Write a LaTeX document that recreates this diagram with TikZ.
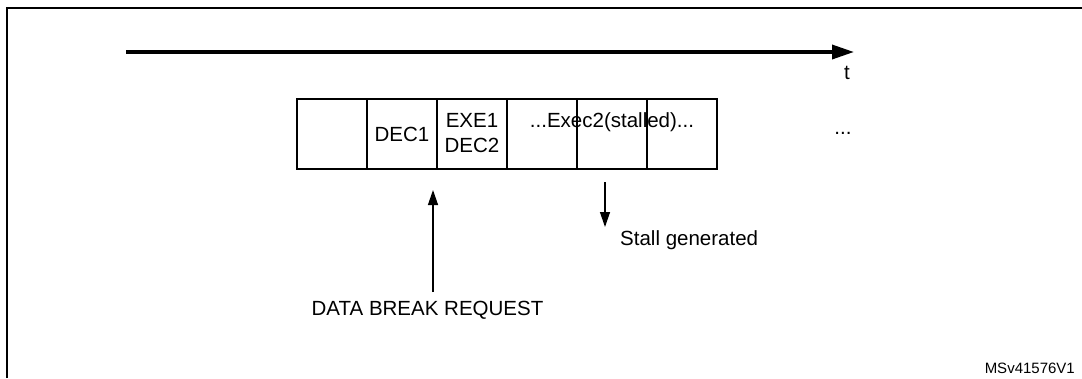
\documentclass[tikz,border=0pt]{standalone}
\usepackage{fontspec}
\setmainfont{Liberation Sans}
\usetikzlibrary{arrows.meta}
\begin{document}
\begin{tikzpicture}[x=1pt,y=-1pt,
  cell/.style={draw,line width=1.4pt,minimum width=70pt,minimum height=70pt,inner sep=0pt,outer sep=0pt},
  lbl/.style={inner sep=0pt,font=\fontsize{20.5}{23.5}\selectfont},
  small/.style={inner sep=0pt,font=\fontsize{15}{18}\selectfont},
  thinarrow/.style={line width=1.3pt,-{Triangle[length=15pt,width=10pt]}},
  timearrow/.style={line width=3.5pt,-{Triangle[length=22pt,width=14pt]}}]
\useasboundingbox (0,0) rectangle (1082,378);
% frame
\draw[line width=2pt] (7,378) -- (7,7.5) -- (1082,7.5);
% time axis
\coordinate (ta) at (126,52);
\coordinate (tb) at (854,52);
\draw[timearrow] (ta) -- (tb);
\node[lbl] (t) at (847,73) {t};
% cells
\node[cell] (c1) at (332,134) {};
\node[cell] (c2) at (402,134) {};
\node[cell] (c3) at (472,134) {};
\node[cell] (c4) at (542,134) {};
\node[cell] (c5) at (612,134) {};
\node[cell] (c6) at (682,134) {};
\node[lbl] (dec1) at (c2) {DEC1};
\node[lbl,align=center] (exe) at (472,133) {EXE1\\[1pt]DEC2};
\node[lbl] (exec2) at (612,122) {...Exec2(stalled)...};
\node[lbl] (dots) at (843,133) {...};
% data break request
\node[lbl] (dbr) at (427.5,310) {DATA BREAK REQUEST};
\coordinate (ua) at (433,292);
\coordinate (ub) at (433,190);
\draw[thinarrow] (ua) -- (ub);
% stall generated
\coordinate (da) at (605,182);
\coordinate (db) at (605,227);
\draw[thinarrow] (da) -- (db);
\node[lbl,anchor=west] (stall) at (620,240) {Stall generated};
% figure id
\node[small,anchor=east] (id) at (1075,368) {MSv41576V1};
\end{tikzpicture}
\end{document}
